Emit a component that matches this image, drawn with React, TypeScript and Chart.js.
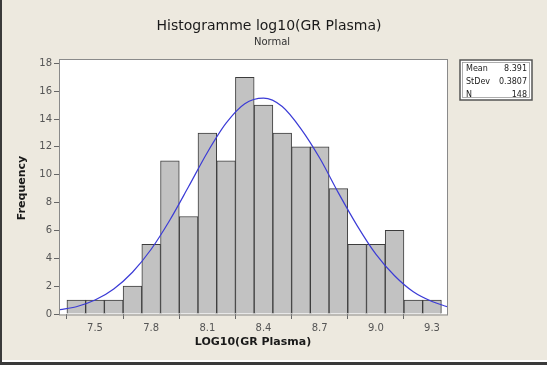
import React, { useEffect, useRef } from "react";
import { Chart, registerables } from "chart.js";

Chart.register(...registerables);

const binMidpoints = [7.4, 7.5, 7.6, 7.7, 7.8, 7.9, 8.0, 8.1, 8.2, 8.3, 8.4, 8.5, 8.6, 8.7, 8.8, 8.9, 9.0, 9.1, 9.2, 9.3];
const frequencies = [1, 1, 1, 2, 5, 11, 7, 13, 11, 17, 15, 13, 12, 12, 9, 5, 5, 6, 1, 1];
const curveX = [7.31, 7.4, 7.5, 7.6, 7.7, 7.8, 7.9, 8.0, 8.1, 8.2, 8.3, 8.4, 8.5, 8.6, 8.7, 8.8, 8.9, 9.0, 9.1, 9.2, 9.3, 9.38];
const curveY = [0.3, 0.52, 1.0, 1.8, 3.0, 4.65, 6.75, 9.15, 11.6, 13.7, 15.1, 15.5, 14.9, 13.3, 11.2, 8.7, 6.35, 4.3, 2.75, 1.6, 0.9, 0.53];
const xTicks = [7.5, 7.8, 8.1, 8.4, 8.7, 9.0, 9.3];
const yTicks = [0, 2, 4, 6, 8, 10, 12, 14, 16, 18];
const statLabels = ["Mean", "StDev", "N"];
const statValues = ["8.391", "0.3807", "148"];
const titleText = "Histogramme log10(GR Plasma)";
const subtitleText = "Normal";
const xTitle = "LOG10(GR Plasma)";
const yTitle = "Frequency";

const W = 547;
const H = 365;
const BG = "#ede9df";
const FONT = "'DejaVu Sans', sans-serif";

export default function App() {
  const ref = useRef<HTMLCanvasElement | null>(null);

  useEffect(() => {
    document.body.style.margin = "0";
    const canvas = ref.current;
    if (!canvas) return;

    const decor = {
      id: "decor",
      beforeDraw(chart: any) {
        const ctx = chart.ctx;
        const a = chart.chartArea;
        ctx.save();
        ctx.fillStyle = BG;
        ctx.fillRect(0, 0, W, H);
        ctx.fillStyle = "#ffffff";
        ctx.fillRect(a.left, a.top, a.right - a.left, a.bottom - a.top);
        ctx.restore();
      },
      afterDraw(chart: any) {
        const ctx = chart.ctx;
        const a = chart.chartArea;
        ctx.save();
        // plot frame
        ctx.strokeStyle = "#8a8a8a";
        ctx.lineWidth = 1;
        ctx.strokeRect(a.left - 0.5, a.top - 0.5, a.right - a.left + 1, a.bottom - a.top + 1.5);
        // outer image border
        ctx.fillStyle = "#3a3a3a";
        ctx.fillRect(0, 0, 2, H);
        ctx.fillRect(0, H - 3, W, 3);
        ctx.fillStyle = "#ffffff";
        ctx.fillRect(2, H - 5, W - 2, 2);
        // titles
        ctx.fillStyle = "#1a1a1a";
        ctx.textAlign = "center";
        ctx.textBaseline = "middle";
        ctx.font = `14px ${FONT}`;
        ctx.fillText(titleText, 269, 26);
        ctx.font = `10px ${FONT}`;
        ctx.fillStyle = "#333";
        ctx.fillText(subtitleText, 272, 42);
        // axis titles
        ctx.fillStyle = "#1a1a1a";
        ctx.font = `bold 11px ${FONT}`;
        ctx.fillText(xTitle, 253, 342);
        ctx.save();
        ctx.translate(22, 188);
        ctx.rotate(-Math.PI / 2);
        ctx.fillText(yTitle, 0, 0);
        ctx.restore();
        // stats box
        ctx.fillStyle = "#ffffff";
        ctx.fillRect(460, 60, 72, 40);
        ctx.strokeStyle = "#555";
        ctx.lineWidth = 1.5;
        ctx.strokeRect(460, 60, 72, 40);
        ctx.lineWidth = 0.8;
        ctx.strokeStyle = "#999";
        ctx.strokeRect(462.5, 62.5, 67, 35);
        ctx.font = `8px ${FONT}`;
        ctx.fillStyle = "#222";
        statLabels.forEach((lab, i) => {
          const y = 68.5 + i * 13;
          ctx.textAlign = "left";
          ctx.fillText(lab, 466, y);
          ctx.textAlign = "right";
          ctx.fillText(statValues[i], 527, y);
        });
        ctx.restore();
      },
    };

    const chart = new Chart(canvas, {
      type: "bar",
      data: {
        datasets: [
          {
            type: "bar",
            data: binMidpoints.map((x, i) => ({ x, y: frequencies[i] })),
            backgroundColor: "#c2c2c2",
            borderColor: "#3c3c3c",
            borderWidth: 1,
            barPercentage: 1,
            categoryPercentage: 1,
            order: 2,
          } as any,
          {
            type: "line",
            data: curveX.map((x, i) => ({ x, y: curveY[i] })),
            borderColor: "#3b3bd6",
            borderWidth: 1.2,
            pointRadius: 0,
            tension: 0.4,
            cubicInterpolationMode: "monotone",
            fill: false,
            order: 1,
          } as any,
        ],
      },
      options: {
        animation: false,
        responsive: false,
        devicePixelRatio: 1,
        layout: { padding: { top: 60, right: 100, left: 0, bottom: 0 } },
        plugins: { legend: { display: false }, tooltip: { enabled: false }, title: { display: false } },
        scales: {
          x: {
            type: "linear",
            min: 7.313,
            max: 9.38,
            offset: false,
            afterFit: (s: any) => { s.height = 51; },
            afterBuildTicks: (s: any) => { s.ticks = xTicks.map((v) => ({ value: v })); },
            grid: { drawOnChartArea: false, drawTicks: true, tickLength: 5, color: "#666", tickColor: "#666" },
            border: { display: false },
            ticks: {
              color: "#555",
              font: { family: FONT, size: 10 },
              padding: 3,
              maxRotation: 0,
              autoSkip: false,
              callback: (v: any) => Number(v).toFixed(1),
            },
          },
          y: {
            type: "linear",
            min: 0,
            max: 18.24,
            afterFit: (s: any) => { s.width = 60; },
            afterBuildTicks: (s: any) => { s.ticks = yTicks.map((v) => ({ value: v })); },
            grid: { drawOnChartArea: false, drawTicks: true, tickLength: 6, color: "#666", tickColor: "#666" },
            border: { display: false },
            ticks: {
              color: "#555",
              font: { family: FONT, size: 10 },
              padding: 2,
              autoSkip: false,
            },
          },
        },
      } as any,
      plugins: [decor],
    });
    return () => chart.destroy();
  }, []);

  return (
    <div style={{ width: W, height: H, background: BG }}>
      <canvas ref={ref} width={W} height={H} style={{ display: "block" }} />
    </div>
  );
}
